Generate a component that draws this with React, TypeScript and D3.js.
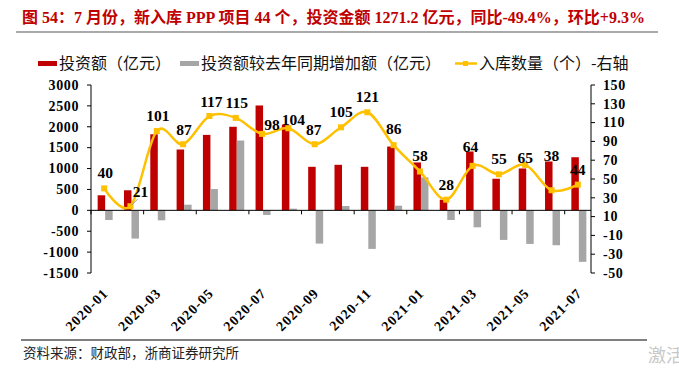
import React from 'react';
import * as d3 from 'd3';

const months = ['2020-01','2020-02','2020-03','2020-04','2020-05','2020-06','2020-07','2020-08','2020-09','2020-10',
  '2020-11','2020-12','2021-01','2021-02','2021-03','2021-04','2021-05','2021-06','2021-07'];
// 投资额（亿元）
const invest = [360, 480, 1820, 1456, 1806, 2000, 2510, 2050, 1042, 1090, 1042, 1527, 1146, 255, 1408, 756, 1002, 1169, 1271.2];
// 投资额较去年同期增加额（亿元）
const investYoY = [-231, -676, -239, 135, 509, 1671, -111, 40, -796, 103, -923, 111, 788, -231, -406, -708, -804, -835, -1233];
// 入库数量（个）
const counts = [40, 21, 101, 87, 117, 115, 98, 104, 87, 105, 121, 86, 58, 28, 64, 55, 65, 38, 44];

const leftTicks = [-1500, -1000, -500, 0, 500, 1000, 1500, 2000, 2500, 3000];
const rightTicks = [-50, -30, -10, 10, 30, 50, 70, 90, 110, 130, 150];
const shownMonths = months.filter((_, i) => i % 2 === 0);

// label nudges (dx, baseline dy) relative to each point
const labelNudge: [number, number][] = [
  [1, -10], [10, -9], [1, -10], [1, -9], [2, -9], [1, -10], [10, -4], [5, -3], [-1, -9], [0, -10],
  [0, -10], [0, -11], [0, -10], [0, -10], [-2, -14], [0, -10], [0, -2], [0, -29], [0, -10],
];

const W = 679, H = 374;
const left = 91, right = 591, top = 85, bottom = 273;
const RED = '#C00000', GRAY = '#A6A6A6', GOLD = '#FFC000';
const serif = "'Liberation Serif', 'Times New Roman', serif";
const cjk = "'Liberation Serif', 'Noto Sans CJK SC', sans-serif";

export default function App() {
  const x = d3.scaleBand<string>().domain(months).range([left, right]).padding(0);
  const bw = x.bandwidth();
  const cx = (m: string) => (x(m) as number) + bw / 2;
  const yL = d3.scaleLinear().domain([-1500, 3000]).range([bottom, top]);
  const yR = d3.scaleLinear().domain([-50, 150]).range([bottom, top]);
  const barW = 7.5;

  const line = d3.line<number>()
    .x((_, i) => cx(months[i]))
    .y(d => yR(d))
    .curve(d3.curveCatmullRom.alpha(0));

  const zero = yL(0);

  return (
    <svg width={W} height={H} style={{ position: 'absolute', left: 0, top: 0, background: '#fff' }}>
      {/* title */}
      <text x={22} y={23} fill={RED} fontFamily={cjk} fontWeight="bold" fontSize={16}>
        图 54：7 月份，新入库 PPP 项目 44 个，投资金额 1271.2 亿元，同比-49.4%，环比+9.3%
      </text>
      <line x1={16} x2={658} y1={32} y2={32} stroke="#8c8c8c" strokeWidth={1.5} />

      {/* legend */}
      <g fontFamily="'Noto Sans CJK SC', sans-serif" fontSize={16} fill="#111">
        <rect x={38} y={61} width={19} height={5} fill={RED} />
        <text x={59} y={69}>投资额（亿元）</text>
        <rect x={180} y={61} width={19} height={5} fill={GRAY} />
        <text x={201} y={69}>投资额较去年同期增加额（亿元）</text>
        <line x1={455} x2={477} y1={63.5} y2={63.5} stroke={GOLD} strokeWidth={2.5} />
        <rect x={463} y={61} width={5} height={5} fill={GOLD} />
        <text x={479} y={69}>入库数量（个）-右轴</text>
      </g>

      {/* bars */}
      {months.map((m, i) => (
        <g key={m}>
          <rect x={cx(m) - barW + 1} y={yL(Math.max(0, invest[i]))} width={barW}
            height={Math.abs(yL(invest[i]) - zero)} fill={RED} />
          <rect x={cx(m) + 1} y={yL(Math.max(0, investYoY[i]))} width={barW}
            height={Math.abs(yL(investYoY[i]) - zero)} fill={GRAY} />
        </g>
      ))}

      {/* axes */}
      <g stroke="#000" strokeWidth={1}>
        <line x1={left} x2={left} y1={top} y2={bottom} />
        {leftTicks.map(t => <line key={t} x1={left - 4} x2={left} y1={yL(t)} y2={yL(t)} />)}
        <line x1={right} x2={right} y1={top} y2={bottom} />
        {rightTicks.map(t => <line key={t} x1={right} x2={right + 4} y1={yR(t)} y2={yR(t)} />)}
        <line x1={left} x2={right} y1={zero} y2={zero} />
        {d3.range(0, months.length + 1, 2).map(k => (
          <line key={k} x1={left + k * bw} x2={left + k * bw} y1={zero} y2={zero + 4} />
        ))}
      </g>
      <g fontFamily={serif} fontWeight="bold" fontSize={14} letterSpacing={0.6} fill="#000">
        {leftTicks.map(t => (
          <text key={t} x={79} y={yL(t)} dy="0.34em" textAnchor="end">{t}</text>
        ))}
        {rightTicks.map(t => (
          <text key={t} x={603} y={yR(t)} dy="0.34em" textAnchor="start">{t}</text>
        ))}
      </g>
      <g fontFamily={serif} fontWeight="bold" fontSize={14} letterSpacing={1} fill="#000">
        {shownMonths.map(m => (
          <text key={m} textAnchor="end" transform={`translate(${cx(m) + 5},${294}) rotate(-45)`}>{m}</text>
        ))}
      </g>

      {/* count line */}
      <path d={line(counts) || ''} fill="none" stroke={GOLD} strokeWidth={2.5} />
      {counts.map((c, i) => (
        <rect key={i} x={cx(months[i]) - 3} y={yR(c) - 3} width={6} height={6} fill={GOLD} />
      ))}
      <line x1={cx(months[1]) + 1} y1={yR(counts[1]) - 1} x2={cx(months[1]) + 7} y2={yR(counts[1]) - 7}
        stroke="#999" strokeWidth={1} />
      <g fontFamily={serif} fontWeight="bold" fontSize={15.5} fill="#000" textAnchor="middle">
        {counts.map((c, i) => (
          <text key={i} x={cx(months[i]) + labelNudge[i][0]} y={yR(c) + labelNudge[i][1]}>{c}</text>
        ))}
      </g>

      {/* footer */}
      <line x1={21} x2={647} y1={340} y2={340} stroke="#000" strokeWidth={1} />
      <text x={23} y={358} fontFamily="'Noto Sans CJK SC', sans-serif" fontSize={13.5} fill="#222">
        资料来源：财政部，浙商证券研究所
      </text>
      <text x={648} y={362} fontFamily="'Noto Sans CJK SC', sans-serif" fontSize={18} fill="#c8c8c8">激活</text>
    </svg>
  );
}
